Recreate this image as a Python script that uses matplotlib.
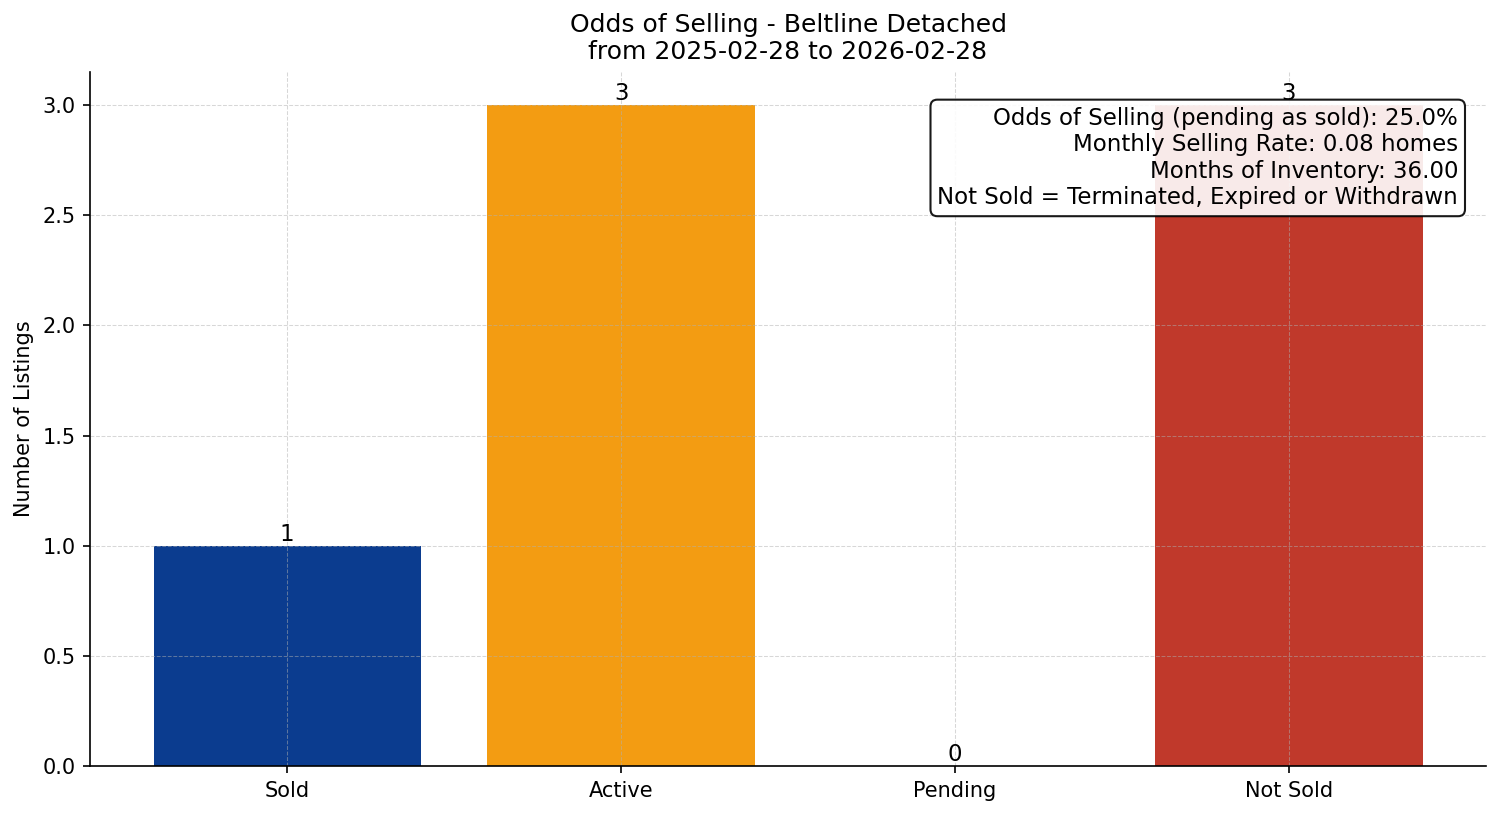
import matplotlib
matplotlib.use('Agg')
import matplotlib.pyplot as plt

categories = ['Sold', 'Active', 'Pending', 'Not Sold']
counts = [1, 3, 0, 3]
colors = ['#0B3C8F', '#F39C12', '#7F8C8D', '#C0392B']

odds_pct = 25.0
monthly_rate = 0.08
months_inventory = 36.00

fig, ax = plt.subplots(figsize=(10.007, 5.44), dpi=150)
bars = ax.bar(categories, counts, color=colors, width=0.8)
for b, v in zip(bars, counts):
    ax.text(b.get_x() + b.get_width() / 2, b.get_height(), str(v),
            ha='center', va='bottom', fontsize=11)

ax.set_title('Odds of Selling - Beltline Detached\nfrom 2025-02-28 to 2026-02-28', fontsize=12)
ax.set_ylabel('Number of Listings', fontsize=10)
ax.grid(True, linestyle='--', linewidth=0.5, alpha=0.5)
ax.spines['top'].set_visible(False)
ax.spines['right'].set_visible(False)

info = (f'Odds of Selling (pending as sold): {odds_pct:.1f}%\n'
        f'Monthly Selling Rate: {monthly_rate:.2f} homes\n'
        f'Months of Inventory: {months_inventory:.2f}\n'
        'Not Sold = Terminated, Expired or Withdrawn')
ax.text(0.98, 0.95, info, transform=ax.transAxes, ha='right', va='top', fontsize=11,
        bbox=dict(boxstyle='round,pad=0.3', facecolor='white', edgecolor='black', alpha=0.9))

fig.subplots_adjust(left=0.06, right=0.99, top=0.912, bottom=0.061)
plt.savefig('out.png', dpi=150)
